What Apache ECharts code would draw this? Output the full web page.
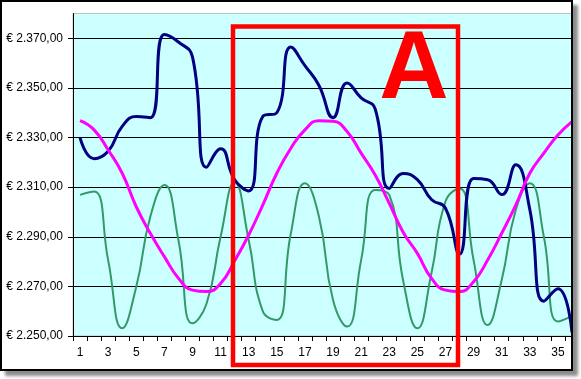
<!DOCTYPE html>
<html><head><meta charset="utf-8">
<script src="https://cdn.jsdelivr.net/npm/echarts@6/dist/echarts.min.js"></script>
<style>
html,body{margin:0;padding:0;background:#fff;width:581px;height:379px;overflow:hidden}
#frame{position:absolute;left:0;top:0;width:569px;height:367px;border:2px solid #000;overflow:hidden;box-shadow:5px 5px 3px rgba(0,0,0,0.45);background:#fff}
#chart{position:absolute;left:-2px;top:-2px;width:581px;height:379px}
</style></head><body>
<div id="frame"><div id="chart"></div></div>
<script>
const categories = ['1','2','3','4','5','6','7','8','9','10','11','12','13','14','15','16','17','18',
  '19','20','21','22','23','24','25','26','27','28','29','30','31','32','33','34','35','36'];
const navySeries = [2330, 2321.5, 2324.5, 2334.5, 2338.5, 2338, 2371.5, 2368.5, 2362.5, 2318, 2325.5, 2313,
  2308.5, 2338.5, 2340, 2366.5, 2359, 2351, 2338, 2352, 2346, 2341.5, 2309.5, 2315.5,
  2313, 2305, 2301.5, 2283, 2313.5, 2313, 2307, 2319, 2301, 2264, 2269, 2251.5];
const magentaSeries = [2336.8, 2333.1, 2325, 2315.6, 2302.1, 2291.4, 2282, 2273.3, 2268.5, 2267.9, 2271.2, 2280.3,
  2290.7, 2302.8, 2315.6, 2325.7, 2333.1, 2336.8, 2336.6, 2332.4, 2323.7, 2314.9, 2303.5, 2291.7,
  2283.3, 2273.3, 2268.5, 2267.9, 2271.9, 2280.6, 2291.4, 2302.8, 2315.6, 2323.7, 2331, 2336.4];
const greenSeries = [2306.9, 2308.2, 2280.6, 2253.1, 2269.9, 2298.1, 2310.9, 2288.7, 2255.1, 2263, 2290, 2312,
  2288.7, 2260, 2256.5, 2291.4, 2311.6, 2298.1, 2264.5, 2253.8, 2280.6, 2308.9, 2306.9, 2272,
  2253.1, 2275.3, 2304.2, 2309.5, 2280.6, 2254.4, 2272.6, 2300.8, 2311.6, 2290, 2255.8, 2258];
const yMin = 2250, yMax = 2380, yStep = 20;
const annotationLabel = 'A';

function euro(v) {
  const th = Math.floor(v / 1000);
  const rest = String(Math.round(v % 1000)).padStart(3, '0');
  return '€ ' + th + '.' + rest + ',00';
}

const chart = echarts.init(document.getElementById('chart'), null, {renderer: 'canvas'});
const font = 'Liberation Sans, Arial, sans-serif';
chart.setOption({
  animation: false,
  backgroundColor: '#fff',
  grid: {left: 73, top: 13.5, width: 506, height: 322.5, show: true,
    backgroundColor: '#CCFFFF', borderColor: '#C0C0C0', borderWidth: 1},
  xAxis: {
    type: 'category', data: categories, boundaryGap: true,
    axisLine: {show: true, lineStyle: {color: '#000', width: 1}},
    axisTick: {show: true, interval: 0, length: 5, lineStyle: {color: '#000'}},
    axisLabel: {interval: 1, color: '#000', fontFamily: font, fontSize: 12, margin: 11},
    splitLine: {show: false}
  },
  yAxis: {
    type: 'value', min: yMin, max: yMax, interval: yStep,
    axisLine: {show: true, lineStyle: {color: '#000', width: 1}},
    axisTick: {show: true, length: 5, lineStyle: {color: '#000'}},
    axisLabel: {formatter: euro, showMaxLabel: false, color: '#000', fontFamily: font, fontSize: 12, margin: 10},
    splitLine: {show: true, showMaxLine: false, lineStyle: {color: '#000', width: 1}}
  },
  series: [
    {type: 'line', data: greenSeries, smooth: true, symbol: 'none', lineStyle: {color: '#339966', width: 2}},
    {type: 'line', data: navySeries, smooth: true, symbol: 'none', lineStyle: {color: '#000080', width: 3}},
    {type: 'line', data: magentaSeries, smooth: true, symbol: 'none', lineStyle: {color: '#FF00FF', width: 3}}
  ],
  graphic: [
    {type: 'rect', z: 100, shape: {x: 233, y: 26.5, width: 225, height: 338.5},
      style: {fill: 'none', stroke: '#FF0000', lineWidth: 4.5}},
    {type: 'text', z: 100, x: 414, y: 72,
      style: {text: annotationLabel, fill: '#FF0000', font: 'bold 96px Liberation Sans, Arial, sans-serif',
        textAlign: 'center', textVerticalAlign: 'middle'}}
  ]
});
</script>
</body></html>
